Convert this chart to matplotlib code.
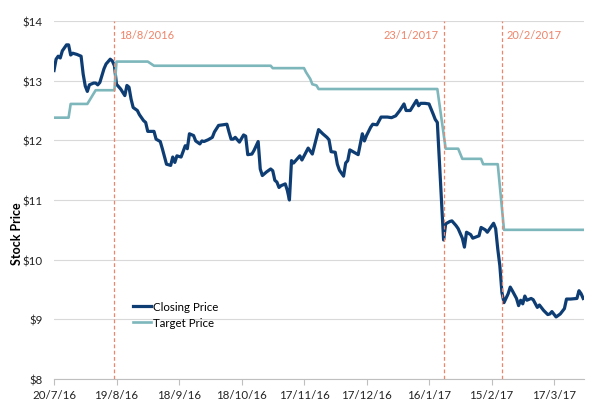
import pandas as pd
import matplotlib
matplotlib.use("Agg")
import matplotlib.pyplot as plt

plt.rcParams["font.family"] = ["Lato", "DejaVu Sans"]

start = pd.Timestamp("2016-07-20")

# closing price: days after 20/7/2016 and price
close_days = [0, 1, 2, 3, 4, 6, 7, 8, 9, 11, 13, 14, 15, 16, 17, 19, 20, 21, 22, 24,
              25, 27, 28, 29, 30, 32, 34, 35, 36, 37, 38, 40, 41, 43, 44, 45, 46, 48, 49, 51,
              52, 53, 54, 56, 57, 58, 59, 60, 61, 63, 64, 65, 67, 68, 70, 71, 72, 74, 76, 77,
              79, 81, 83, 84, 85, 86, 87, 89, 91, 92, 93, 95, 96, 98, 99, 100, 102, 104, 105, 106,
              107, 108, 109, 111, 112, 113, 114, 115, 117, 118, 119, 122, 124, 127, 129, 131, 132, 133, 135, 136,
              137, 139, 140, 141, 142, 144, 146, 148, 149, 150, 152, 153, 155, 157, 160, 162, 164, 166, 168, 169,
              171, 174, 175, 176, 178, 180, 182, 183, 184, 187, 188, 190, 191, 193, 194, 196, 197, 198, 200, 201,
              204, 205, 207, 208, 211, 212, 213, 214, 215, 216, 218, 219, 220, 222, 223, 224, 225, 226, 227, 229,
              230, 232, 233, 235, 237, 238, 239, 241, 243, 245, 246, 248, 251, 252, 253, 254]
close_price = [13.17, 13.36, 13.41, 13.38, 13.50, 13.60, 13.60, 13.43, 13.46, 13.44, 13.41, 13.11, 12.91, 12.82, 12.93, 12.96, 12.96, 12.93, 12.97, 13.20,
               13.28, 13.36, 13.33, 13.25, 12.94, 12.86, 12.75, 12.92, 12.89, 12.69, 12.55, 12.50, 12.43, 12.33, 12.30, 12.15, 12.15, 12.15, 12.02, 11.98,
               11.86, 11.73, 11.60, 11.58, 11.72, 11.63, 11.74, 11.73, 11.72, 11.91, 11.86, 12.11, 12.08, 11.99, 11.94, 11.99, 11.98, 12.01, 12.05, 12.14,
               12.25, 12.26, 12.27, 12.14, 12.02, 12.02, 12.05, 11.97, 12.09, 12.07, 11.76, 11.77, 11.83, 11.98, 11.52, 11.41, 11.47, 11.52, 11.49, 11.33,
               11.30, 11.21, 11.24, 11.27, 11.16, 11.00, 11.66, 11.62, 11.70, 11.74, 11.67, 11.87, 11.77, 12.18, 12.11, 12.05, 12.01, 11.81, 11.80, 11.60,
               11.50, 11.40, 11.62, 11.66, 11.84, 11.80, 11.76, 12.11, 11.99, 12.08, 12.22, 12.27, 12.26, 12.39, 12.39, 12.38, 12.41, 12.50, 12.61, 12.50,
               12.50, 12.67, 12.58, 12.62, 12.62, 12.61, 12.44, 12.35, 12.30, 10.33, 10.60, 10.64, 10.65, 10.57, 10.52, 10.36, 10.21, 10.46, 10.42, 10.36,
               10.40, 10.54, 10.50, 10.46, 10.61, 10.52, 10.18, 9.90, 9.45, 9.28, 9.43, 9.54, 9.48, 9.35, 9.23, 9.32, 9.26, 9.39, 9.32, 9.35,
               9.33, 9.20, 9.24, 9.15, 9.08, 9.09, 9.13, 9.04, 9.09, 9.18, 9.34, 9.34, 9.35, 9.48, 9.43, 9.35]

# target price
target_days = [0, 7, 8, 16, 20, 29, 30, 45, 48, 104, 105, 120, 121, 123, 124, 126, 127,
               184, 188, 194, 196, 205, 206, 213, 216, 254]
target_price = [12.38, 12.38, 12.61, 12.61, 12.84, 12.84, 13.32, 13.32, 13.25, 13.25, 13.21, 13.21, 13.14,
                13.03, 12.94, 12.92, 12.86, 12.86, 11.86, 11.86, 11.69, 11.69, 11.60, 11.60, 10.50, 10.50]

event_dates = ["2016-08-18", "2017-01-23", "2017-02-20"]
event_labels = ["18/8/2016", "23/1/2017", "20/2/2017"]

tick_labels = ["20/7/16", "19/8/16", "18/9/16", "18/10/16", "17/11/16",
               "17/12/16", "16/1/17", "15/2/17", "17/3/17"]
y_ticks = [8, 9, 10, 11, 12, 13, 14]

navy = "#0e3d74"
teal = "#7db6bb"
salmon = "#ee8469"

close_dates = start + pd.to_timedelta(close_days, unit="D")
target_dates = start + pd.to_timedelta(target_days, unit="D")
tick_dates = pd.to_datetime(tick_labels, format="%d/%m/%y")

fig = plt.figure(figsize=(6.02, 4.14), dpi=100)
ax = fig.add_axes([54 / 602, 34 / 414, 530 / 602, 358 / 414])

ax.plot(close_dates, close_price, color=navy, lw=2.3, label="Closing Price", zorder=3)
ax.plot(target_dates, target_price, color=teal, lw=1.9, label="Target Price", zorder=3)

for d, lab, side in zip(event_dates, event_labels, ["right", "left", "right"]):
    d = pd.Timestamp(d)
    ax.axvline(d, color=salmon, lw=0.9, ls=(0, (3, 2)), zorder=4)
    off = 3.5 if side == "right" else -3.5
    ax.annotate(lab, (d, 13.77), xytext=(off, 0), textcoords="offset points",
                ha="left" if side == "right" else "right", va="center",
                color=salmon, fontsize=8)

ax.set_ylim(8, 14)
ax.set_xlim(start, start + pd.Timedelta(days=254.4))
ax.set_yticks(y_ticks)
ax.set_yticklabels([f"${v}" for v in y_ticks])
ax.set_xticks(tick_dates)
ax.set_xticklabels(tick_labels)
ax.grid(axis="y", color="#d9d9d9", lw=0.8)
ax.set_axisbelow(True)

for s in ["top", "right", "left"]:
    ax.spines[s].set_visible(False)
ax.spines["bottom"].set_color("#bfbfbf")
ax.spines["bottom"].set_linewidth(0.8)
ax.tick_params(axis="x", length=4, color="#bfbfbf", labelsize=8.3, pad=3, labelcolor="#222222")
ax.tick_params(axis="y", length=0, labelsize=8.3, pad=8, labelcolor="#222222")

fig.text(17 / 602, 1 - 234 / 414, "Stock Price", rotation=90, ha="center", va="center",
         fontsize=9, fontweight="bold")

ax.legend(loc="upper left", bbox_to_anchor=(0.138, 0.235), frameon=False, fontsize=8.3,
          handlelength=1.6, handletextpad=0.1, labelspacing=0.5, borderpad=0)

fig.savefig("out.png", dpi=100)
